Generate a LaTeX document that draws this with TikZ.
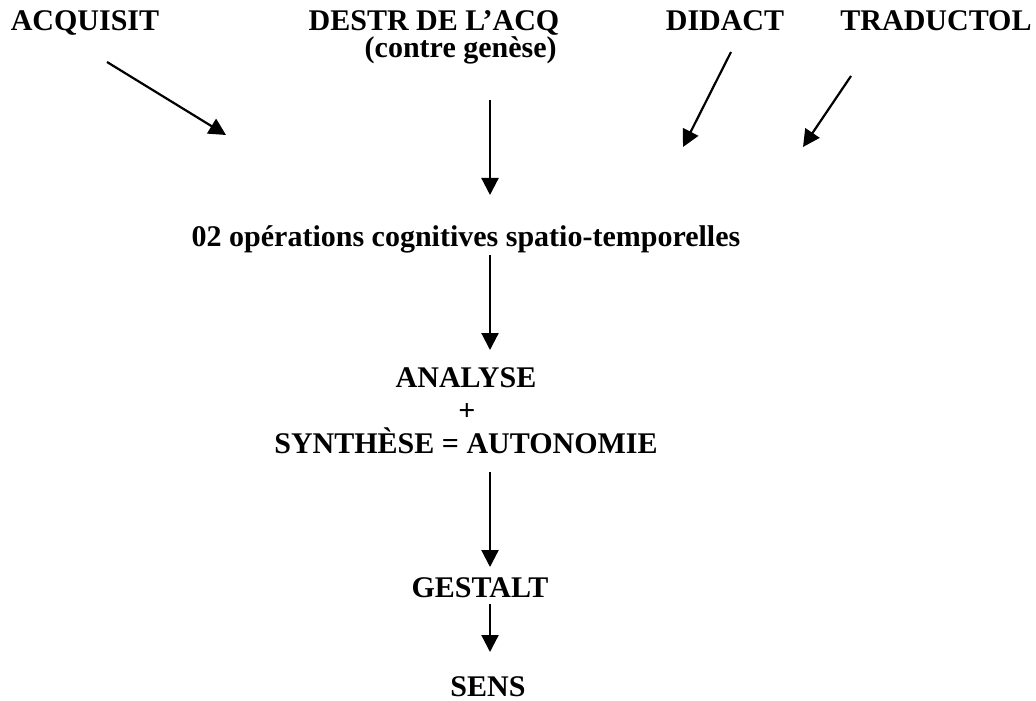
\documentclass[tikz,border=0pt]{standalone}
\usepackage{fontspec}
\setmainfont{Liberation Serif}
\usetikzlibrary{arrows.meta}
\begin{document}
\begin{tikzpicture}[x=0.5pt,y=-0.5pt,
  lbl/.style={font=\fontsize{15}{17}\selectfont\bfseries,inner sep=0pt,anchor=base},
  arr/.style={-{Triangle[length=8.5pt,width=8.5pt]},line width=1.1pt}]
\useasboundingbox (0,0) rectangle (1036,700);
% sources
\node[lbl] (acq) at (85,31) {ACQUISIT};
\node[lbl] (destr) at (434,31) {DESTR DE L'ACQ};
\node[lbl,anchor=base east] (contre) at (557,58) {(contre genèse)};
\node[lbl] (didact) at (725,31) {DIDACT};
\node[lbl] (trad) at (936,31) {TRADUCTOL};
% chain
\node[lbl] (ops) at (466,246) {02 opérations cognitives spatio-temporelles};
\node[lbl] (analyse) at (466,387) {ANALYSE};
\node[lbl] (plus) at (467,420) {+};
\node[lbl] (synth) at (466,453) {SYNTHÈSE = AUTONOMIE};
\node[lbl] (gestalt) at (480,597) {GESTALT};
\node[lbl] (sens) at (488,696) {SENS};
% arrow ends
\coordinate (acqA) at (107,62);   \coordinate (acqB) at (226,135);
\coordinate (destrA) at (490,100); \coordinate (destrB) at (490,195);
\coordinate (didA) at (731,52);   \coordinate (didB) at (683,147);
\coordinate (tradA) at (851,76);  \coordinate (tradB) at (803,147);
\coordinate (opsA) at (490,255);  \coordinate (opsB) at (490,350);
\coordinate (synA) at (490,472);  \coordinate (synB) at (490,567);
\coordinate (gesA) at (490,604);  \coordinate (gesB) at (490,652);
\draw[arr] (acqA) -- (acqB);
\draw[arr] (destrA) -- (destrB);
\draw[arr] (didA) -- (didB);
\draw[arr] (tradA) -- (tradB);
\draw[arr] (opsA) -- (opsB);
\draw[arr] (synA) -- (synB);
\draw[arr] (gesA) -- (gesB);
\end{tikzpicture}
\end{document}
